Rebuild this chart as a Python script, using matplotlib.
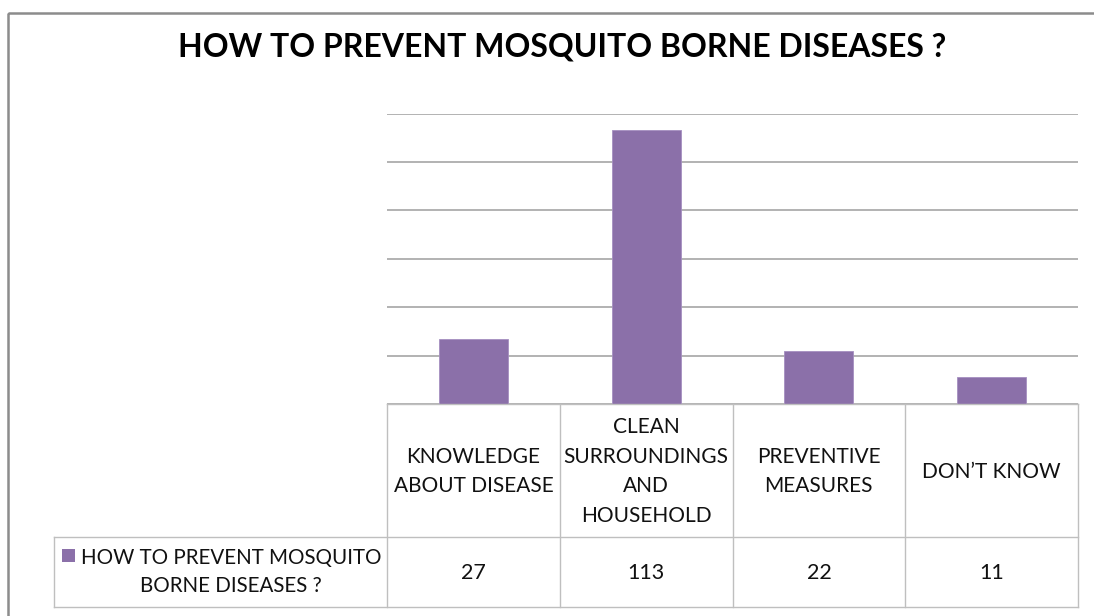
import matplotlib
matplotlib.use("Agg")
import matplotlib.pyplot as plt
from matplotlib.lines import Line2D
from matplotlib.patches import Rectangle
from matplotlib.transforms import Affine2D, blended_transform_factory

# ---- data ----
title = "HOW TO PREVENT MOSQUITO BORNE DISEASES ?"
series_name = "HOW TO PREVENT MOSQUITO\nBORNE DISEASES ?"
categories = ["KNOWLEDGE\nABOUT DISEASE", "CLEAN\nSURROUNDINGS\nAND\nHOUSEHOLD",
              "PREVENTIVE\nMEASURES", "DON\u2019T KNOW"]
values = [27, 113, 22, 11]
y_ticks = [0, 20, 40, 60, 80, 100, 120]

W, H = 1094, 616
BAR = "#8B70A9"
GRID = "#A6A6A6"
TBL = "#BFBFBF"
FONT = ["Lato", "DejaVu Sans"]

plt.rcParams["font.family"] = FONT
fig = plt.figure(figsize=(W / 100, H / 100), dpi=100)
fig.patch.set_facecolor("white")

px = Affine2D().scale(1 / W, -1 / H).translate(0, 1) + fig.transFigure

# plot area
x0, x1, ytop, ybot = 387, 1078, 113.5, 404
ax = fig.add_axes([x0 / W, 1 - ybot / H, (x1 - x0) / W, (ybot - ytop) / H])
n = len(categories)
ax.bar(range(n), values, width=0.4, color=BAR, edgecolor="#A58FC0", linewidth=0.6, zorder=3)
ax.set_xlim(-0.5, n - 0.5)
ax.set_ylim(y_ticks[0], y_ticks[-1])
ax.set_yticks(y_ticks)
ax.yaxis.grid(True, color=GRID, linewidth=1.2)
ax.set_axisbelow(True)
ax.tick_params(left=False, labelleft=False, bottom=False, labelbottom=False)
for s in ax.spines.values():
    s.set_visible(False)

bt = blended_transform_factory(ax.transData, px)

# outer frame
fig.add_artist(Rectangle((8, 13), 1200, 700, transform=px, fill=False,
                         edgecolor="#8C8C8C", linewidth=1.8))

# title
fig.text(562 / W, 1 - 47 / H, title, ha="center", va="center",
         fontsize=23, fontweight="bold", color="black")

# data table
head_top, head_bot, row_bot = 404, 537, 607
legend_left = 54
lw = 1.0
fig.add_artist(Line2D([-0.5, n - 0.5], [head_top, head_top], transform=bt, color=TBL, lw=lw))
fig.add_artist(Line2D([legend_left, x1], [head_bot, head_bot], transform=px, color=TBL, lw=lw))
fig.add_artist(Line2D([legend_left, x1], [row_bot, row_bot], transform=px, color=TBL, lw=lw))
fig.add_artist(Line2D([legend_left, legend_left], [head_bot, row_bot], transform=px, color=TBL, lw=lw))
for i in range(n + 1):
    fig.add_artist(Line2D([i - 0.5, i - 0.5], [head_top, row_bot], transform=bt, color=TBL, lw=lw))

for i, (c, v) in enumerate(zip(categories, values)):
    fig.text(i, (head_top + head_bot) / 2 + 1, c, transform=bt, ha="center", va="center",
             fontsize=15, linespacing=1.62, color="#111111")
    fig.text(i, (head_bot + row_bot) / 2 + 1, str(v), transform=bt, ha="center", va="center",
             fontsize=15.5, color="#111111")

# legend cell
fig.add_artist(Rectangle((62, 549), 13, 13, transform=px, facecolor=BAR, edgecolor="none"))
fig.text(231, (head_bot + row_bot) / 2, series_name, transform=px, ha="center", va="center",
         fontsize=14.8, linespacing=1.45, color="#111111")

fig.savefig("out.png", dpi=100, facecolor="white")
